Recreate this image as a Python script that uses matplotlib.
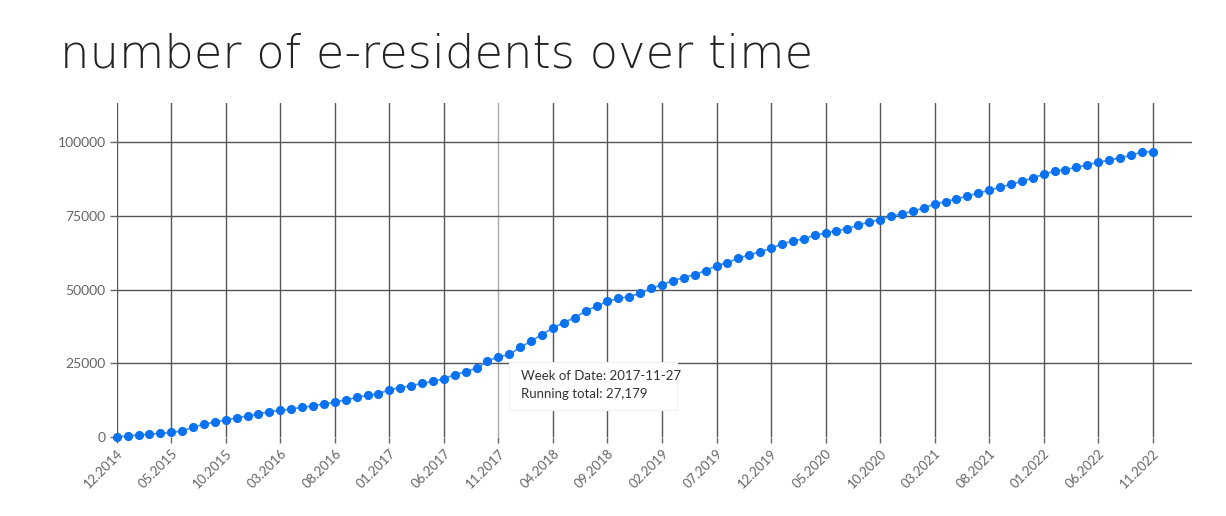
import matplotlib
matplotlib.use("Agg")
import matplotlib.pyplot as plt
from matplotlib.patches import FancyBboxPatch
from matplotlib import font_manager

# ---- data ----
month_labels = ["12.2014", "05.2015", "10.2015", "03.2016", "08.2016", "01.2017",
                "06.2017", "11.2017", "04.2018", "09.2018", "02.2019", "07.2019",
                "12.2019", "05.2020", "10.2020", "03.2021", "08.2021", "01.2022",
                "06.2022", "11.2022"]
running_total = [
    0, 350, 650, 950, 1200, 1550, 2050, 3300, 4300, 5100,
    5800, 6500, 7100, 7850, 8600, 9000, 9500, 10050, 10550, 11200,
    11800, 12600, 13400, 14150, 14700, 16000, 16750, 17400, 18150, 18900,
    19800, 21100, 22150, 23300, 25700, 27179, 28000, 30400, 32550, 34750,
    37000, 38800, 40500, 42700, 44400, 46000, 47000, 47600, 48750, 50400,
    51650, 53050, 54100, 55100, 56400, 58100, 59100, 60700, 61750, 62800,
    63950, 65500, 66450, 67250, 68400, 69150, 70000, 70650, 71850, 73000,
    73700, 74950, 75600, 76700, 77600, 79100, 79800, 80800, 81700, 82800,
    83700, 84700, 85700, 86700, 87900, 89100, 90200, 90700, 91500, 92300,
    93200, 93900, 94700, 95500, 96700, 96800]
y_ticks = [0, 25000, 50000, 75000, 100000]
tooltip_index = 35
tooltip_date = "2017-11-27"
title_text = "number of e-residents over time"

plt.rcParams['font.family'] = ['Lato', 'DejaVu Sans']

# pick a thin font for the title if one is installed
title_family, title_weight = 'Lato', 100
for fam, wt in [('DejaVu Sans', 200)]:
    if any(f.name == fam and (f.weight if isinstance(f.weight, int) else 400) <= 250
           for f in font_manager.fontManager.ttflist):
        title_family, title_weight = fam, wt
        break

W, H = 1226, 516
fig = plt.figure(figsize=(W / 100, H / 100), dpi=100)
ax = fig.add_axes([116.7 / W, (H - 437) / H, (1192 - 116.7) / W, (437 - 103) / H])

xs = list(range(len(running_total)))
ax.plot(xs, running_total, color='#4a96f5', lw=1.3, zorder=3, clip_on=False)
ax.plot(xs, running_total, 'o', color='#0a72f0', ms=6.6, mew=0,
        zorder=4, clip_on=False)

ax.set_xlim(0, 98.6)
ax.set_ylim(0, 113300)

tick_pos = list(range(0, len(running_total), 5))
ax.set_xticks(tick_pos)
ax.set_xticklabels(month_labels, rotation=45, ha='right', va='top',
                   rotation_mode='anchor', fontsize=9.5, color='#666666')
ax.set_yticks(y_ticks)
ax.set_yticklabels([str(v) for v in y_ticks], fontsize=10, color='#666666')

for s in ax.spines.values():
    s.set_visible(False)
ax.tick_params(axis='x', length=4.5, width=1, color='#666666', pad=3)
ax.tick_params(axis='y', length=5, width=1, color='#666666', pad=3)

for t in tick_pos:
    c = '#aaaaaa' if t == tooltip_index else '#555555'
    ax.axvline(t, color=c, lw=1, zorder=1)
for v in y_ticks[1:]:
    ax.axhline(v, color='#555555', lw=1, zorder=1)

# title, sized to span the same width as the reference
title = fig.text(60 / W, (H - 68) / H, title_text, fontsize=30,
                 family=[title_family, 'DejaVu Sans'], fontweight=title_weight,
                 color='#222222', ha='left', va='baseline')
fig.canvas.draw()
w = title.get_window_extent().width
title.set_fontsize(30 * 752 / w)

# tooltip
bx0, by0, bx1, by1 = 509, 362, 677, 410
shadow = FancyBboxPatch((bx0 / W, (H - by1 - 1) / H), (bx1 - bx0 + 1) / W, (by1 - by0 + 1) / H,
                        boxstyle='square,pad=0', transform=fig.transFigure,
                        facecolor='#eeeeee', edgecolor='none', zorder=9)
fig.patches.append(shadow)
box = FancyBboxPatch((bx0 / W, (H - by1) / H), (bx1 - bx0) / W, (by1 - by0) / H,
                     boxstyle='square,pad=0', transform=fig.transFigure,
                     facecolor='white', edgecolor='#f0f0f0', lw=0.8, zorder=10)
fig.patches.append(box)
fig.text(521 / W, (H - 376) / H, "Week of Date: " + tooltip_date, fontsize=9.5,
         color='#333333', ha='left', va='center', zorder=11)
fig.text(521 / W, (H - 394) / H, "Running total: {:,}".format(running_total[tooltip_index]),
         fontsize=9.5, color='#333333', ha='left', va='center', zorder=11)

fig.savefig("out.png", dpi=100, facecolor='white')
